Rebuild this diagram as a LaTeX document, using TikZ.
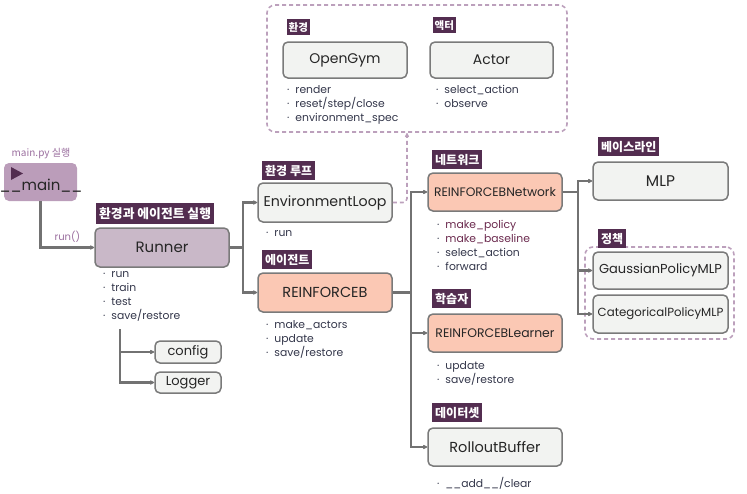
\documentclass[tikz,border=0pt]{standalone}
\usepackage{fontspec}
\setmainfont{Poppins}
\newfontfamily\kr{Noto Sans CJK KR}
\usetikzlibrary{arrows.meta}
\definecolor{bordergray}{HTML}{7A7A7A}
\definecolor{linegray}{HTML}{727272}
\definecolor{boxgray}{HTML}{F2F3F1}
\definecolor{salmon}{HTML}{FBC8B4}
\definecolor{runnerfill}{HTML}{C9B8C8}
\definecolor{mainfill}{HTML}{BB9DBA}
\definecolor{tagpurple}{HTML}{532D50}
\definecolor{mauve}{HTML}{9A6E9E}
\definecolor{dashmauve}{HTML}{BCA0BC}
\definecolor{bullettext}{HTML}{33364A}
\definecolor{maroon}{HTML}{6B2A4E}
\tikzset{
  box/.style={draw=bordergray, line width=1.5pt, rounded corners=5pt, inner sep=0pt, text=black!85},
  graybox/.style={box, fill=boxgray},
  salbox/.style={box, fill=salmon},
  tag/.style={fill=tagpurple, text=white, font=\kr\bfseries\fontsize{12}{13}\selectfont, inner xsep=3pt, inner ysep=0pt, minimum height=19pt, anchor=north west},
  smalltag/.style={tag, font=\kr\bfseries\fontsize{10.5}{11}\selectfont, minimum height=16pt, inner xsep=1.5pt},
  blist/.style={anchor=north west, inner sep=0pt, align=left, text=bullettext, font=\fontsize{10.8}{14}\selectfont},
  conn/.style={draw=linegray, line width=2.2pt, -{Stealth[length=5.5pt,width=5.5pt,round]}},
  plainconn/.style={draw=linegray, line width=2.2pt},
  dashconn/.style={draw=dashmauve, line width=1.6pt, dash pattern=on 4pt off 3pt, -{Stealth[length=5.5pt,width=5.5pt,round]}},
  dashbox/.style={draw=dashmauve, line width=1.6pt, dash pattern=on 4pt off 3pt, rounded corners=8pt, inner sep=0pt},
}
\newcommand{\bl}[1]{\textperiodcentered\hspace{6pt}#1}
\begin{document}
\begin{tikzpicture}[x=1pt,y=-1pt]
\useasboundingbox (0,0) rectangle (747,493);

% top dashed group
\node[dashbox, minimum width=300pt, minimum height=127pt] (topbox) at (417,68.5) {};
\node[smalltag] (tgenv) at (287,19) {환경};
\node[graybox, minimum width=124pt, minimum height=36pt, font=\fontsize{14}{16}\selectfont] (opengym) at (345,60) {OpenGym};
\node[blist] (lgym) at (287,85.5) {\bl{render}\\ \bl{reset/step/close}\\ \bl{environment\_spec}};
\node[smalltag] (tgactor) at (433,17) {액터};
\node[graybox, minimum width=123pt, minimum height=36pt, font=\fontsize{14}{16}\selectfont] (actor) at (491.5,60) {Actor};
\node[blist] (lactor) at (436,85.5) {\bl{select\_action}\\ \bl{observe}};

% main
\node[font=\kr\fontsize{10}{12}\selectfont, text=mauve, inner sep=0pt] (mainlbl) at (41,154) {main.py 실행};
\node[fill=mainfill, rounded corners=5pt, minimum width=73pt, minimum height=38pt, inner sep=0pt] (main) at (40.5,182) {};
\node[font=\fontsize{15}{16}\selectfont, text=black!85, inner sep=0pt] (maintxt) at (41,186) {\_\_main\_\_};
\fill[tagpurple] (11,167) -- (23,173.5) -- (11,180) -- cycle;

% runner
\node[tag, font=\kr\bfseries\fontsize{12.8}{14}\selectfont, minimum height=21pt] (tgrun) at (96,203) {환경과 에이전트 실행};
\node[box, fill=runnerfill, minimum width=134pt, minimum height=39pt, font=\fontsize{15}{16}\selectfont] (runner) at (162,247.5) {Runner};
\node[blist] (lrun) at (103,271.5) {\bl{run}\\ \bl{train}\\ \bl{test}\\ \bl{save/restore}};
\node[graybox, minimum width=66pt, minimum height=22pt, font=\fontsize{13}{14}\selectfont] (config) at (188,352) {config};
\node[graybox, minimum width=66pt, minimum height=21pt, font=\fontsize{13}{14}\selectfont] (logger) at (188,382.5) {Logger};

% env loop / agent
\node[tag] (tgloop) at (262,161) {환경 루프};
\node[graybox, minimum width=134pt, minimum height=39pt, font=\fontsize{14.2}{16}\selectfont] (envloop) at (325,202.5) {EnvironmentLoop};
\node[blist] (lloop) at (266,230.5) {\bl{run}};
\node[tag] (tgagent) at (262,250) {에이전트};
\node[salbox, minimum width=134pt, minimum height=39pt, font=\fontsize{14.5}{16}\selectfont] (reinf) at (325,292.5) {REINFORCEB};
\node[blist] (lreinf) at (266,320.5) {\bl{make\_actors}\\ \bl{update}\\ \bl{save/restore}};

% network / learner / buffer
\node[tag] (tgnet) at (432,150) {네트워크};
\node[salbox, minimum width=134pt, minimum height=38pt, font=\fontsize{12.3}{14}\selectfont] (network) at (495,192) {REINFORCEBNetwork};
\node[blist] (lnet) at (437,220.5) {\bl{\textcolor{maroon}{make\_policy}}\\ \bl{\textcolor{maroon}{make\_baseline}}\\ \bl{select\_action}\\ \bl{forward}};
\node[tag] (tglearn) at (432,289) {학습자};
\node[salbox, minimum width=134pt, minimum height=38pt, font=\fontsize{12.4}{14}\selectfont] (learner) at (495,333) {REINFORCEBLearner};
\node[blist] (llearn) at (437,361.5) {\bl{update}\\ \bl{save/restore}};
\node[tag] (tgdata) at (432,403) {데이터셋};
\node[graybox, minimum width=134pt, minimum height=38pt, font=\fontsize{14.5}{16}\selectfont] (rollout) at (495,447) {RolloutBuffer};
\node[blist] (lroll) at (437,477.5) {\bl{\_\_add\_\_/clear}};

% right column
\node[tag] (tgbase) at (598,137) {베이스라인};
\node[graybox, minimum width=135pt, minimum height=38pt, font=\fontsize{15.5}{16}\selectfont] (mlp) at (660.5,181) {MLP};
\node[dashbox, minimum width=149pt, minimum height=92pt] (polbox) at (659.5,293) {};
\node[tag] (tgpol) at (598,229) {정책};
\node[graybox, minimum width=135pt, minimum height=37pt, font=\fontsize{13}{14}\selectfont] (gauss) at (660.5,270.5) {GaussianPolicyMLP};
\node[graybox, minimum width=135pt, minimum height=38pt, font=\fontsize{11.8}{14}\selectfont] (cat) at (660.5,314) {CategoricalPolicyMLP};

% connectors
\draw[conn] (main.south) |- (runner.west) node[pos=0.75, above=1pt, font=\fontsize{10}{12}\selectfont, text=mauve] {run()};
\coordinate (j1) at (243,247.5);
\draw[plainconn] (runner.east) -- (j1);
\draw[conn] (j1) |- (envloop.west);
\draw[conn] (j1) |- (reinf.west);
\coordinate (rb) at (120,329);
\draw[conn] (rb) |- (config.west);
\draw[conn] (rb) |- (logger.west);
\coordinate (tb) at (407,133);
\draw[dashconn, rounded corners=4pt] (envloop.east) -| (tb);
\coordinate (j2) at (411,292.5);
\draw[plainconn] (reinf.east) -- (j2);
\draw[conn] (j2) |- (network.west);
\draw[conn] (j2) |- (learner.west);
\draw[conn] (j2) |- (rollout.west);
\coordinate (j3) at (578,192);
\draw[plainconn] (network.east) -- (j3);
\draw[conn] (j3) |- (mlp.west);
\draw[conn] (j3) |- (gauss.west);
\draw[conn] (j3) |- (cat.west);
\end{tikzpicture}
\end{document}
